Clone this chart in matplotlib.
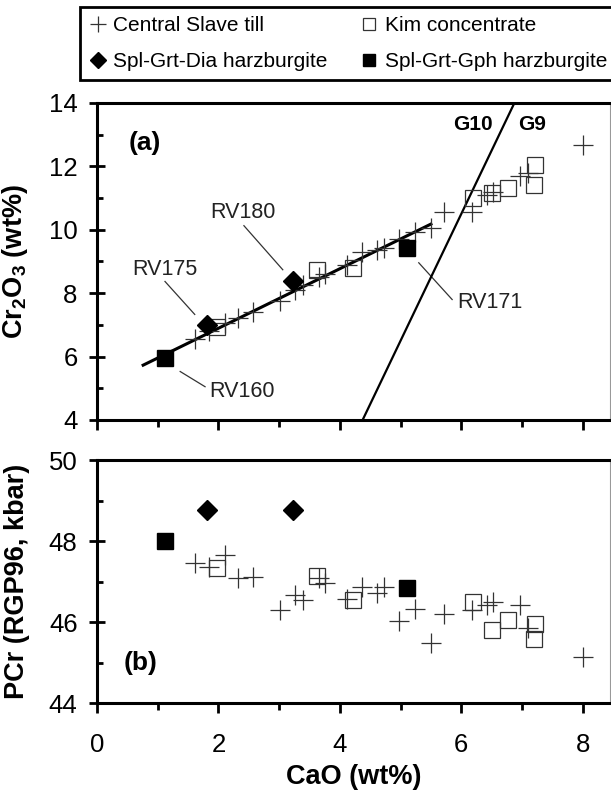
import matplotlib
matplotlib.use("Agg")
import matplotlib.pyplot as plt
from matplotlib.lines import Line2D
from matplotlib.ticker import MultipleLocator

plt.rcParams['font.family'] = ['Liberation Sans', 'DejaVu Sans']
plt.rcParams['mathtext.fontset'] = 'custom'
plt.rcParams['mathtext.rm'] = 'Liberation Sans'
plt.rcParams['mathtext.bf'] = 'Liberation Sans:bold'

# ---- data ----
till_cao = [1.61, 1.85, 2.11, 2.33, 2.57, 3.01, 3.26, 3.40, 3.65, 3.76, 4.12, 4.37,
            4.61, 4.72, 4.98, 5.24, 5.50, 5.72, 6.17, 6.43, 6.52, 6.97, 7.10, 8.00]
till_cr2o3 = [6.55, 6.80, 7.05, 7.22, 7.42, 7.75, 8.10, 8.25, 8.50, 8.60, 8.90, 9.30,
              9.37, 9.42, 9.70, 9.94, 10.07, 10.55, 10.55, 11.10, 11.20, 11.70, 11.80, 12.68]
till_pcr = [47.46, 47.36, 47.65, 47.08, 47.11, 46.30, 46.67, 46.54, 47.08, 46.96, 46.57, 46.87,
            46.72, 46.87, 46.02, 46.33, 45.47, 46.20, 46.30, 46.41, 46.50, 46.41, 45.85, 45.14]

kim_cao = [1.98, 3.62, 4.22, 6.20, 6.51, 6.77, 7.22, 7.20]
kim_cr2o3 = [6.93, 8.74, 8.79, 11.00, 11.17, 11.32, 12.05, 11.42]
kim_pcr = [47.33, 47.14, 46.54, 46.50, 45.80, 46.04, 45.96, 45.59]

dia_names = ["RV175", "RV180"]
dia_cao = [1.81, 3.23]
dia_cr2o3 = [7.01, 8.39]
dia_pcr = [48.77, 48.77]

gph_names = ["RV160", "RV171"]
gph_cao = [1.12, 5.11]
gph_cr2o3 = [5.97, 9.44]
gph_pcr = [48.0, 46.84]

trend_cao = [0.76, 5.50]
trend_cr2o3 = [5.73, 10.18]

g10_cao = [4.375, 6.875]
g10_cr2o3 = [4.0, 14.0]

W, H = 611, 793
fig = plt.figure(figsize=(W / 100, H / 100), dpi=100)

def ax_rect(l, r, t, b):
    return [l / W, 1 - b / H, (r - l) / W, (b - t) / H]

axa = fig.add_axes(ax_rect(97, 610, 103, 420))
axb = fig.add_axes(ax_rect(97, 610, 460, 703))

till_kw = dict(marker='+', ms=14, mew=0.9, color='#333333', ls='none')
kim_kw = dict(marker='s', ms=12, mfc='none', mec='#333333', mew=0.9, ls='none')
dia_kw = dict(marker='D', ms=10, color='black', ls='none')
gph_kw = dict(marker='s', ms=11, color='black', ls='none')

# panel a
axa.plot(trend_cao, trend_cr2o3, color='black', lw=2.2, zorder=2)
axa.plot(g10_cao, g10_cr2o3, color='black', lw=1.6, zorder=2)
axa.plot(till_cao, till_cr2o3, zorder=3, **till_kw)
axa.plot(kim_cao, kim_cr2o3, zorder=3, **kim_kw)
axa.plot(dia_cao, dia_cr2o3, zorder=4, **dia_kw)
axa.plot(gph_cao, gph_cr2o3, zorder=4, **gph_kw)

# panel b
axb.plot(till_cao, till_pcr, zorder=3, **till_kw)
axb.plot(kim_cao, kim_pcr, zorder=3, **kim_kw)
axb.plot(dia_cao, dia_pcr, zorder=4, **dia_kw)
axb.plot(gph_cao, gph_pcr, zorder=4, **gph_kw)

# annotations panel a
ann = [("RV175", (1.61, 7.33), (1.12, 8.37), (1.12, 8.74)),
       ("RV180", (3.06, 8.74), (2.42, 10.13), (2.41, 10.53)),
       ("RV160", (1.78, 5.05), (1.37, 5.53), (2.39, 4.90)),
       ("RV171", (5.85, 7.80), (5.30, 8.96), (6.47, 7.70))]
for name, p1, p2, tp in ann:
    axa.plot([p1[0], p2[0]], [p1[1], p2[1]], color='#333333', lw=0.9, zorder=1)
    axa.text(tp[0], tp[1], name, fontsize=15.5, ha='center', va='center', color='#222222')

axa.text(6.2, 13.31, "G10", fontsize=15, fontweight='bold', ha='center', va='center')
axa.text(7.17, 13.31, "G9", fontsize=15, fontweight='bold', ha='center', va='center')
axa.text(0.79, 12.74, "(a)", fontsize=19, fontweight='bold', ha='center', va='center')
axb.text(0.71, 44.98, "(b)", fontsize=19, fontweight='bold', ha='center', va='center')

for ax, ylim in [(axa, (4, 14)), (axb, (44, 50))]:
    ax.set_xlim(0, 8.45)
    ax.set_ylim(*ylim)
    ax.xaxis.set_major_locator(MultipleLocator(2))
    ax.xaxis.set_minor_locator(MultipleLocator(1))
    ax.yaxis.set_major_locator(MultipleLocator(2))
    ax.yaxis.set_minor_locator(MultipleLocator(1))
    ax.tick_params(axis='x', which='major', direction='out', length=7.5, width=2, labelsize=18.5, pad=14)
    ax.tick_params(axis='x', which='minor', direction='out', length=5, width=2)
    ax.tick_params(axis='y', which='major', direction='inout', length=12, width=2, labelsize=18.5, pad=8)
    ax.tick_params(axis='y', which='minor', direction='in', length=4.5, width=2)
    for s in ['left', 'bottom', 'top']:
        ax.spines[s].set_linewidth(2.2)
    ax.spines['right'].set_linewidth(0.8)
    ax.spines['right'].set_color('#999999')

axa.tick_params(axis='x', labelbottom=False)
axb.set_xlabel("CaO (wt%)", fontsize=19.5, fontweight='bold', labelpad=5)
axa.set_ylabel(r"Cr$_\mathbf{2}$O$_\mathbf{3}$ (wt%)", fontsize=19.5, fontweight='bold')
axb.set_ylabel("PCr (RGP96, kbar)", fontsize=19.5, fontweight='bold')
axa.yaxis.set_label_coords(-0.13, 0.5)
axb.yaxis.set_label_coords(-0.13, 0.5)

handles = [Line2D([], [], **{**till_kw, 'ms': 12}), Line2D([], [], **{**dia_kw, 'ms': 8}),
           Line2D([], [], **{**kim_kw, 'ms': 9}), Line2D([], [], **{**gph_kw, 'ms': 9})]
labels = ["Central Slave till", "Spl-Grt-Dia harzburgite", "Kim concentrate", "Spl-Grt-Gph harzburgite"]
leg = fig.legend(handles, labels, ncol=2, loc='upper left', bbox_to_anchor=(80 / W, 1 - 7 / H),
                 fontsize=15, frameon=True, fancybox=False, edgecolor='black', framealpha=1,
                 handlelength=0.8, handletextpad=0.35, columnspacing=1.6, labelspacing=0.8,
                 borderpad=0.45, borderaxespad=0)
leg.get_frame().set_linewidth(2)

fig.savefig("out.png", dpi=100)
